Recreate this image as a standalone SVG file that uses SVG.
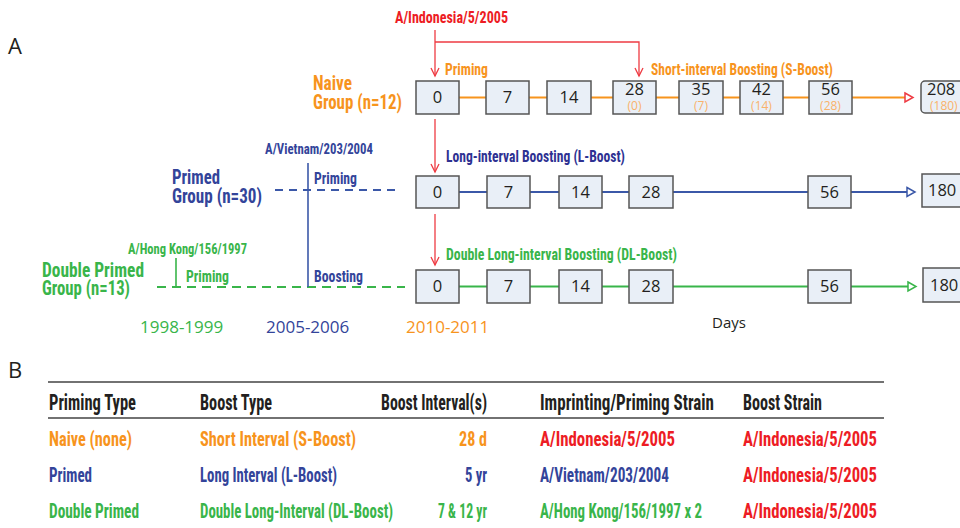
<svg xmlns="http://www.w3.org/2000/svg" width="960" height="528" viewBox="0 0 960 528">
<defs>
<style>
.c{font-family:"Liberation Sans Narrow","Roboto Condensed","DejaVu Sans Condensed","Liberation Sans",sans-serif;font-weight:bold}
.r{font-family:"Open Sans","Liberation Sans",sans-serif}
.box{fill:#e9eff7;stroke:#555;stroke-width:1.5}
.num{font-family:"Open Sans","Liberation Sans",sans-serif;font-size:16.5px;fill:#231f20;text-anchor:middle}
.sub{font-family:"Open Sans","Liberation Sans",sans-serif;font-size:12px;fill:#f9b26a;text-anchor:middle}
.or{fill:#f7941d}.bl{fill:#33449a}.gr{fill:#39b54a}.rd{fill:#ed1c24}.bk{fill:#231f20}.pu{fill:#2e3192}
.redl{stroke:#ee3b43;stroke-width:1.3;fill:none}
</style>
</defs>
<rect width="960" height="528" fill="#fff"/>

<text x="8" y="54" class="r" font-size="22" fill="#231f20">A</text>
<text x="8" y="378" class="r" font-size="22" fill="#231f20">B</text>

<g id="connectors">
<path class="redl" d="M435 30 V76"/>
<path d="M431 68 L435 76 L439 68" class="redl"/>
<path class="redl" d="M435 42 H639 V76"/>
<path d="M635 68 L639 76 L643 68" class="redl"/>
<path class="redl" d="M435 119 V172"/>
<path d="M431 164 L435 172 L439 164" class="redl"/>
<path class="redl" d="M435 214 V265"/>
<path d="M431 257 L435 265 L439 257" class="redl"/>
<path d="M459 97.5 H905" stroke="#f7941d" stroke-width="2" fill="none"/>
<path d="M905 93 L913 97.5 L905 102 Z" fill="#fff" stroke="#ee3b43" stroke-width="1.5"/>
<path d="M459 192 H907" stroke="#3b58a8" stroke-width="2" fill="none"/>
<path d="M907 187.5 L915 192 L907 196.5 Z" fill="#fff" stroke="#3b58a8" stroke-width="1.5"/>
<path d="M459 286.5 H908" stroke="#39b54a" stroke-width="2" fill="none"/>
<path d="M908 282 L916 286.5 L908 291 Z" fill="#fff" stroke="#39b54a" stroke-width="1.5"/>
<path d="M275 190 H400" stroke="#3b58a8" stroke-width="1.8" stroke-dasharray="8 6"/>
<path d="M157 287 H405" stroke="#39b54a" stroke-width="1.8" stroke-dasharray="9 6"/>
<path d="M308 163 V287" stroke="#3b58a8" stroke-width="1.6"/>
<path d="M176 258 V287" stroke="#39b54a" stroke-width="1.6"/>
</g>

<g id="labels">
<text x="395" y="23" class="c rd" font-size="16.5" textLength="113" lengthAdjust="spacingAndGlyphs">A/Indonesia/5/2005</text>
<text x="445" y="75" class="c or" font-size="16.5" textLength="43" lengthAdjust="spacingAndGlyphs">Priming</text>
<text x="651" y="75" class="c or" font-size="16.5" textLength="182" lengthAdjust="spacingAndGlyphs">Short-interval Boosting (S-Boost)</text>
<text x="313" y="90" class="c or" font-size="20.5" textLength="39" lengthAdjust="spacingAndGlyphs">Naive</text>
<text x="313" y="109" class="c or" font-size="20.5" textLength="89" lengthAdjust="spacingAndGlyphs">Group (n=12)</text>

<text x="446" y="162" class="c pu" font-size="16.5" textLength="179" lengthAdjust="spacingAndGlyphs">Long-interval Boosting (L-Boost)</text>
<text x="172" y="184" class="c bl" font-size="20.5" textLength="48" lengthAdjust="spacingAndGlyphs">Primed</text>
<text x="172" y="203" class="c bl" font-size="20.5" textLength="90" lengthAdjust="spacingAndGlyphs">Group (n=30)</text>
<text x="265" y="154" class="c bl" font-size="14" textLength="108" lengthAdjust="spacingAndGlyphs">A/Vietnam/203/2004</text>
<text x="314" y="184" class="c bl" font-size="16.5" textLength="43" lengthAdjust="spacingAndGlyphs">Priming</text>

<text x="446" y="260" class="c gr" font-size="16.5" textLength="231" lengthAdjust="spacingAndGlyphs">Double Long-interval Boosting (DL-Boost)</text>
<text x="42" y="277" class="c gr" font-size="20.5" textLength="102" lengthAdjust="spacingAndGlyphs">Double Primed</text>
<text x="42" y="295" class="c gr" font-size="20.5" textLength="88" lengthAdjust="spacingAndGlyphs">Group (n=13)</text>
<text x="128" y="254" class="c gr" font-size="15" textLength="119" lengthAdjust="spacingAndGlyphs">A/Hong Kong/156/1997</text>
<text x="186" y="282" class="c gr" font-size="16.5" textLength="43" lengthAdjust="spacingAndGlyphs">Priming</text>
<text x="314" y="282" class="c bl" font-size="16.5" textLength="49" lengthAdjust="spacingAndGlyphs">Boosting</text>

<text x="140" y="333" class="r gr" font-size="17">1998-1999</text>
<text x="266" y="333" class="r bl" font-size="17">2005-2006</text>
<text x="406" y="333" class="r or" font-size="17">2010-2011</text>
<text x="712" y="328" class="r bk" font-size="15">Days</text>
</g>

<g id="naive-row">
<g id="n0"><rect class="box" x="416" y="81" width="43" height="33"/><text class="num" x="437.5" y="103">0</text></g>
<g id="n7"><rect class="box" x="486" y="81" width="43" height="33"/><text class="num" x="507.5" y="103">7</text></g>
<g id="n14"><rect class="box" x="547" y="81" width="44" height="33"/><text class="num" x="569" y="103">14</text></g>
<g id="n28"><rect class="box" x="613" y="81" width="43" height="33"/><text class="num" x="634.5" y="95">28</text><text class="sub" x="634.5" y="110">(0)</text></g>
<g id="n35"><rect class="box" x="679" y="81" width="44" height="33"/><text class="num" x="701" y="95">35</text><text class="sub" x="701" y="110">(7)</text></g>
<g id="n42"><rect class="box" x="740" y="81" width="43" height="33"/><text class="num" x="761.5" y="95">42</text><text class="sub" x="761.5" y="110">(14)</text></g>
<g id="n56"><rect class="box" x="809" y="81" width="43" height="33"/><text class="num" x="830.5" y="95">56</text><text class="sub" x="830.5" y="110">(28)</text></g>
<g id="n208"><rect class="box" x="921" y="81" width="50" height="32" rx="4"/><text class="num" x="927" y="95" style="text-anchor:start">208</text><text class="sub" x="930" y="110" style="text-anchor:start">(180)</text></g>
</g>

<g id="primed-row">
<g id="p0"><rect class="box" x="416" y="176" width="43" height="32"/><text class="num" x="437.5" y="197.5">0</text></g>
<g id="p7"><rect class="box" x="487" y="176" width="43" height="32"/><text class="num" x="508.5" y="197.5">7</text></g>
<g id="p14"><rect class="box" x="559" y="176" width="43" height="32"/><text class="num" x="580.5" y="197.5">14</text></g>
<g id="p28"><rect class="box" x="629" y="176" width="44" height="32"/><text class="num" x="651" y="197.5">28</text></g>
<g id="p56"><rect class="box" x="808" y="176" width="43" height="32"/><text class="num" x="829.5" y="197.5">56</text></g>
<g id="p180"><rect class="box" x="922" y="174" width="50" height="33"/><text class="num" x="928" y="196" style="text-anchor:start">180</text></g>
</g>

<g id="double-row">
<g id="d0"><rect class="box" x="416" y="270" width="43" height="33"/><text class="num" x="437.5" y="292">0</text></g>
<g id="d7"><rect class="box" x="487" y="270" width="43" height="33"/><text class="num" x="508.5" y="292">7</text></g>
<g id="d14"><rect class="box" x="559" y="270" width="43" height="33"/><text class="num" x="580.5" y="292">14</text></g>
<g id="d28"><rect class="box" x="629" y="270" width="44" height="33"/><text class="num" x="651" y="292">28</text></g>
<g id="d56"><rect class="box" x="808" y="270" width="43" height="33"/><text class="num" x="829.5" y="292">56</text></g>
<g id="d180"><rect class="box" x="923" y="268" width="50" height="34"/><text class="num" x="930" y="291" style="text-anchor:start">180</text></g>
</g>

<g id="table">
<path d="M48 382 H884 M48 418 H884" stroke="#444" stroke-width="1.5"/>
<text x="49" y="410" class="c bk" font-size="22" textLength="87" lengthAdjust="spacingAndGlyphs">Priming Type</text>
<text x="200" y="410" class="c bk" font-size="22" textLength="72" lengthAdjust="spacingAndGlyphs">Boost Type</text>
<text x="381" y="410" class="c bk" font-size="22" textLength="106" lengthAdjust="spacingAndGlyphs">Boost Interval(s)</text>
<text x="540" y="410" class="c bk" font-size="22" textLength="174" lengthAdjust="spacingAndGlyphs">Imprinting/Priming  Strain</text>
<text x="743" y="410" class="c bk" font-size="22" textLength="79" lengthAdjust="spacingAndGlyphs">Boost Strain</text>

<text x="49" y="446" class="c or" font-size="20.5" textLength="83" lengthAdjust="spacingAndGlyphs">Naive (none)</text>
<text x="200" y="446" class="c or" font-size="20.5" textLength="156" lengthAdjust="spacingAndGlyphs">Short Interval (S-Boost)</text>
<text x="459" y="446" class="c or" font-size="20.5" textLength="28" lengthAdjust="spacingAndGlyphs">28 d</text>
<text x="540" y="446" class="c rd" font-size="20.5" textLength="135" lengthAdjust="spacingAndGlyphs">A/Indonesia/5/2005</text>
<text x="743" y="446" class="c rd" font-size="20.5" textLength="134" lengthAdjust="spacingAndGlyphs">A/Indonesia/5/2005</text>

<text x="49" y="482" class="c bl" font-size="20.5" textLength="43" lengthAdjust="spacingAndGlyphs">Primed</text>
<text x="200" y="482" class="c bl" font-size="20.5" textLength="137" lengthAdjust="spacingAndGlyphs">Long Interval (L-Boost)</text>
<text x="465" y="482" class="c bl" font-size="20.5" textLength="22" lengthAdjust="spacingAndGlyphs">5 yr</text>
<text x="540" y="482" class="c bl" font-size="20.5" textLength="129" lengthAdjust="spacingAndGlyphs">A/Vietnam/203/2004</text>
<text x="743" y="482" class="c rd" font-size="20.5" textLength="134" lengthAdjust="spacingAndGlyphs">A/Indonesia/5/2005</text>

<text x="49" y="518" class="c gr" font-size="20.5" textLength="90" lengthAdjust="spacingAndGlyphs">Double Primed</text>
<text x="200" y="518" class="c gr" font-size="20.5" textLength="193" lengthAdjust="spacingAndGlyphs">Double Long-Interval (DL-Boost)</text>
<text x="438" y="518" class="c gr" font-size="20.5" textLength="49" lengthAdjust="spacingAndGlyphs">7 &amp; 12 yr</text>
<text x="540" y="518" class="c gr" font-size="20.5" textLength="162" lengthAdjust="spacingAndGlyphs">A/Hong Kong/156/1997 x 2</text>
<text x="743" y="518" class="c rd" font-size="20.5" textLength="134" lengthAdjust="spacingAndGlyphs">A/Indonesia/5/2005</text>
</g>
</svg>
